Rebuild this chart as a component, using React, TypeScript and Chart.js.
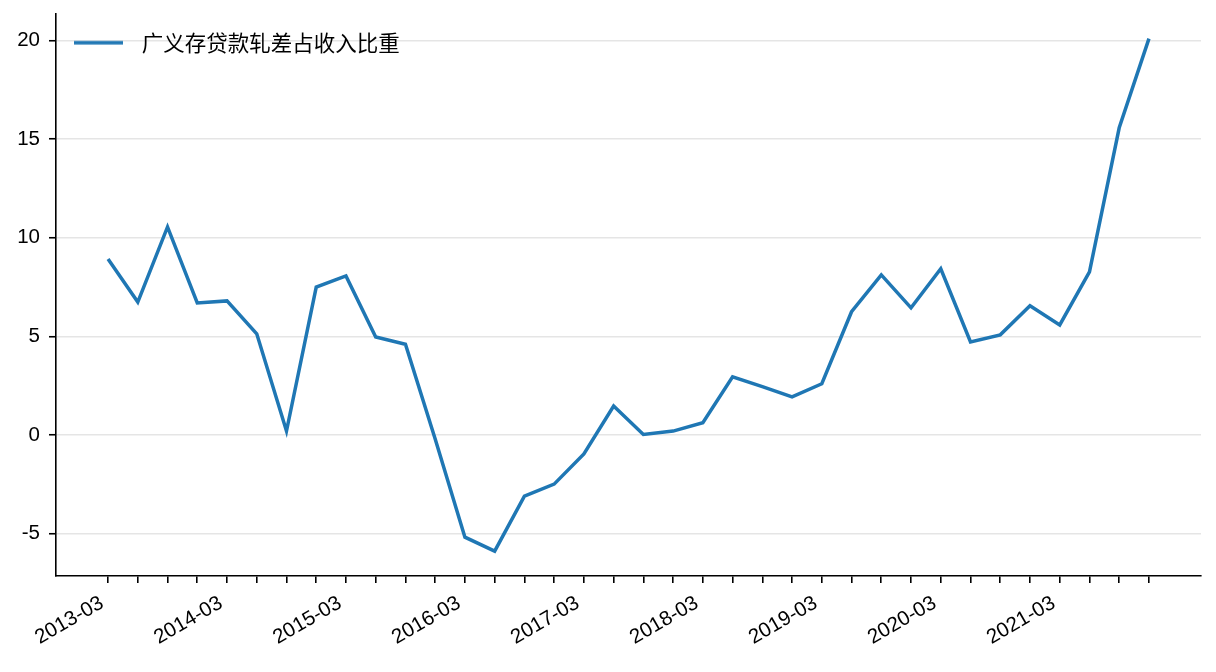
import { useEffect, useRef } from "react";
import { Chart, registerables } from "chart.js";

Chart.register(...registerables);

const quarters = [
  "2013-03", "2013-06", "2013-09", "2013-12",
  "2014-03", "2014-06", "2014-09", "2014-12",
  "2015-03", "2015-06", "2015-09", "2015-12",
  "2016-03", "2016-06", "2016-09", "2016-12",
  "2017-03", "2017-06", "2017-09", "2017-12",
  "2018-03", "2018-06", "2018-09", "2018-12",
  "2019-03", "2019-06", "2019-09", "2019-12",
  "2020-03", "2020-06", "2020-09", "2020-12",
  "2021-03", "2021-06", "2021-09", "2021-12",
];

const ratio = [
  8.92, 6.74, 10.55, 6.7,
  6.8, 5.13, 0.2, 7.5,
  8.07, 4.97, 4.6, -0.2,
  -5.18, -5.89, -3.1, -2.49,
  -0.96, 1.47, 0.03, 0.2,
  0.62, 2.95, 2.45, 1.93,
  2.6, 6.25, 8.12, 6.45,
  8.43, 4.72, 5.08, 6.55,
  5.58, 8.27, 15.58, 20.1,
];

const yTicks = [-5, 0, 5, 10, 15, 20];
const seriesName = "广义存贷款轧差占收入比重";
const lineColor = "#1f77b4";

const tickFont = { family: "'Liberation Sans', Arial, sans-serif", size: 20.5 };

// legend sample: 49px line followed by a small gap before the text
const makeLegendLine = () => {
  const c = document.createElement("canvas");
  c.width = 57;
  c.height = 6;
  const ctx = c.getContext("2d");
  if (ctx) {
    ctx.fillStyle = lineColor;
    ctx.fillRect(0, 1.25, 49, 3.5);
  }
  return c;
};

// keep the legend inside the plot, aligned to the top of the chart area
const legendInside = {
  id: "legendInside",
  afterLayout(chart: Chart) {
    const lg: any = chart.legend;
    if (!lg) return;
    const h = lg.bottom - lg.top;
    lg.top = chart.chartArea.top;
    lg.bottom = lg.top + h;
  },
};

export default function App() {
  const canvasRef = useRef<HTMLCanvasElement | null>(null);

  useEffect(() => {
    const canvas = canvasRef.current;
    if (!canvas) return;

    const chart = new Chart(canvas, {
      type: "line",
      data: {
        datasets: [
          {
            label: seriesName,
            data: ratio.map((v, i) => ({ x: i, y: v })),
            borderColor: lineColor,
            backgroundColor: lineColor,
            borderWidth: 3.5,
            pointRadius: 0,
            tension: 0,
            fill: false,
          },
        ],
      },
      options: {
        animation: false,
        responsive: true,
        maintainAspectRatio: false,
        layout: { padding: { top: 14, right: 15, left: 0, bottom: 0 } },
        plugins: {
          tooltip: { enabled: false },
          legend: {
            position: "chartArea",
            align: "start",
            labels: {
              usePointStyle: true,
              pointStyle: makeLegendLine(),
              pointStyleWidth: 57,
              padding: 18,
              color: "#000",
              font: { family: "'Noto Sans CJK SC', sans-serif", size: 21.5 },
            },
          },
        },
        scales: {
          x: {
            type: "linear",
            min: -1.75,
            max: 36.75,
            afterBuildTicks: (scale) => {
              scale.ticks = quarters.map((_, i) => ({ value: i }));
            },
            afterFit: (scale: any) => {
              scale.height = 96;
              scale.paddingLeft = 0;
              scale.paddingRight = 0;
            },
            ticks: {
              autoSkip: false,
              minRotation: 30,
              maxRotation: 30,
              padding: 8,
              labelOffset: -6,
              color: "#000",
              font: tickFont,
              callback: (value) => {
                const q = quarters[Number(value)];
                return q && q.endsWith("-03") ? q : "";
              },
            },
            grid: {
              display: true,
              drawOnChartArea: false,
              drawTicks: true,
              tickLength: 7,
              tickColor: "#000",
              tickWidth: 1.6,
              lineWidth: 1.6,
            },
            border: { display: true, color: "#000", width: 1.6 },
          },
          y: {
            type: "linear",
            min: -7.15,
            max: 21.35,
            afterBuildTicks: (scale) => {
              scale.ticks = yTicks.map((v) => ({ value: v }));
            },
            afterFit: (scale: any) => {
              scale.width = 56;
              scale.paddingTop = 0;
              scale.paddingBottom = 0;
            },
            ticks: {
              padding: 9,
              color: "#000",
              font: tickFont,
            },
            grid: {
              color: "#e5e5e5",
              lineWidth: 1.5,
              drawTicks: true,
              tickLength: 7,
              tickColor: "#000",
              tickWidth: 1.6,
            },
            border: { display: true, color: "#000", width: 1.6 },
          },
        },
      },
      plugins: [legendInside],
    });

    return () => chart.destroy();
  }, []);

  return (
    <div
      style={{
        position: "fixed",
        left: 0,
        top: 0,
        width: 1216,
        height: 672,
        background: "#fff",
      }}
    >
      <canvas ref={canvasRef} />
    </div>
  );
}
